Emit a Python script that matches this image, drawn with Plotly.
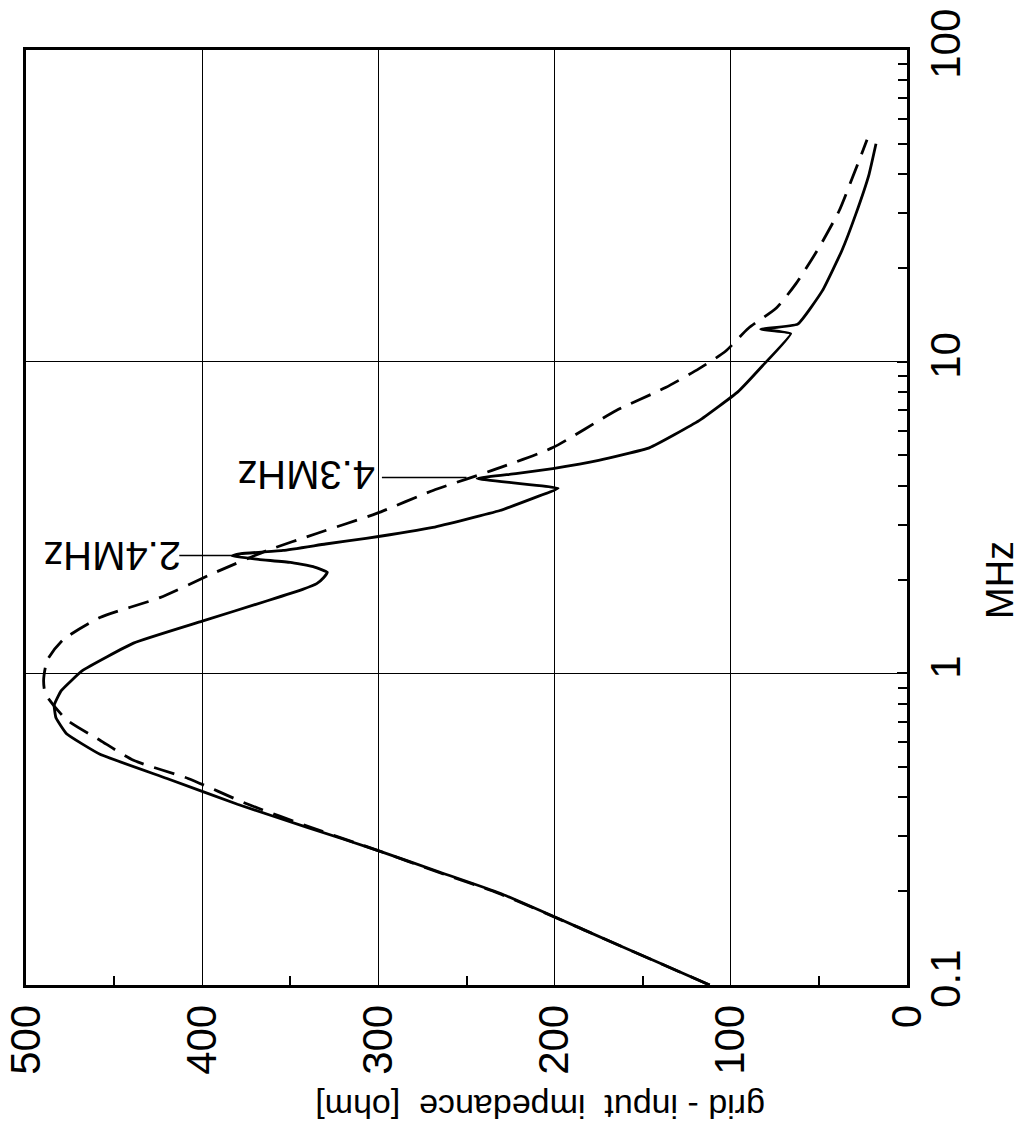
import plotly.graph_objects as go

# Frequency (MHz) / grid-input impedance (ohm)
freq_solid = [0.1, 0.12, 0.15, 0.197, 0.23, 0.271, 0.32, 0.38, 0.46, 0.55, 0.64, 0.72,
              0.79, 0.88, 1.02, 1.25, 1.47, 1.71, 1.86, 1.94, 2.03, 2.11, 2.2, 2.27,
              2.32, 2.38, 2.42, 2.48, 2.6, 2.71, 2.94, 3.33, 3.65, 3.92, 4.22, 4.37,
              4.54, 4.82, 5.3, 6.47, 8.0, 9.7, 12.3, 12.7, 13.2, 16.9, 22.7, 29.8, 40.0, 50.0]
z_solid = [112, 144, 183, 231, 265, 301, 340, 380, 420, 458, 477, 483,
           484, 480, 468, 439, 400, 363, 343, 335, 331, 329, 337, 350,
           368, 383, 378, 354, 330, 307, 269, 231, 212, 198, 244, 222,
           201, 175, 146, 118, 96, 82, 66, 83, 62, 48, 37, 29, 21.5, 17.6]

freq_dash = [0.1, 0.12, 0.15, 0.197, 0.23, 0.271, 0.32, 0.38, 0.46, 0.526, 0.61, 0.71,
             0.86, 0.95, 1.10, 1.28, 1.51, 1.75, 2.09, 2.48, 2.81, 3.26, 3.86, 4.57,
             5.3, 6.97, 8.26, 9.5, 10.8, 12.8, 14.9, 17.8, 23.2, 30.5, 38.9, 51.5]
z_dash = [112, 144, 183, 232, 266, 301, 338, 374, 408, 439, 458, 477,
          489, 490, 488, 479, 458, 424, 394, 363, 335, 301, 269, 231,
          201, 165, 137, 118, 103, 90, 74, 63, 50, 38.5, 31, 22.7]

z_ticks = [0, 100, 200, 300, 400, 500]
z_minor = [50, 150, 250, 350, 450]
f_ticks = [0.1, 1, 10, 100]
f_labels = ["0.1", "1", "10", "100"]
f_minor = [m * d for d in (0.1, 1, 10) for m in range(2, 10)]

# resonance markers: label, frequency, leader line start/end impedance
res_labels = ["2.4MHz", "4.3MHz"]
res_freq = [2.39, 4.25]
res_lead_from = [413, 298]
res_lead_to = [382, 250]

FONT = "Liberation Sans, Arial, sans-serif"

W, H = 1021, 1146
L, R, T, B = 26, 114, 50, 161
PW, PH = W - L - R, H - T - B


def px(x):
    return (x - L) / PW


def py(y):
    return (H - B - y) / PH


fig = go.Figure()
fig.add_trace(go.Scatter(x=z_dash, y=freq_dash, mode="lines",
                         line=dict(color="black", width=2.8, dash="21px,11px", shape="spline", smoothing=0.6),
                         showlegend=False, hoverinfo="skip"))
fig.add_trace(go.Scatter(x=z_solid, y=freq_solid, mode="lines",
                         line=dict(color="black", width=2.8, shape="spline", smoothing=0.35),
                         showlegend=False, hoverinfo="skip"))

fig.update_layout(
    template="none",
    width=W, height=H,
    margin=dict(l=L, r=R, t=T, b=B, autoexpand=False),
    paper_bgcolor="white", plot_bgcolor="white",
    font=dict(family=FONT, color="black"),
    xaxis=dict(range=[500, 0], tickmode="array", tickvals=z_ticks,
               ticktext=[str(v) for v in z_ticks], tickangle=-90,
               tickfont=dict(size=42, family=FONT), automargin=False,
               showgrid=True, gridcolor="black", gridwidth=1,
               showline=True, linecolor="black", linewidth=3, mirror=True,
               ticks="", zeroline=False,
               minor=dict(tickvals=z_minor, ticks="inside", ticklen=9,
                          tickcolor="black", tickwidth=2, showgrid=False)),
    yaxis=dict(type="log", range=[-1, 2], side="right", tickmode="array",
               tickvals=f_ticks, ticktext=f_labels, tickangle=-90,
               tickfont=dict(size=42, family=FONT), automargin=False,
               showgrid=True, gridcolor="black", gridwidth=1,
               showline=True, linecolor="black", linewidth=3, mirror=True,
               ticks="inside", ticklen=10, tickwidth=2, tickcolor="black",
               zeroline=False,
               minor=dict(tickvals=f_minor, ticks="inside", ticklen=9,
                          tickcolor="black", tickwidth=2, showgrid=False)),
)

# leader lines for the resonance labels
for f, z0, z1 in zip(res_freq, res_lead_from, res_lead_to):
    fig.add_shape(type="line", xref="x", yref="y", x0=z0, x1=z1, y0=f, y1=f,
                  line=dict(color="black", width=1.5))

label_pos = [(112, 556), (306, 475)]
for txt, (lx, ly) in zip(res_labels, label_pos):
    fig.add_annotation(x=px(lx), y=py(ly), xref="paper", yref="paper", text=txt,
                       xanchor="center", yanchor="middle",
                       showarrow=False, textangle=180, font=dict(size=40, family=FONT))

fig.add_annotation(x=px(540), y=py(1107), xref="paper", yref="paper",
                   text="grid - input&nbsp;&nbsp;impedance&nbsp;&nbsp;[ohm]",
                   xanchor="center", yanchor="middle",
                   showarrow=False, textangle=180, font=dict(size=34, family=FONT))
fig.add_annotation(x=px(1000), y=py(580), xref="paper", yref="paper",
                   text="MHz", showarrow=False, textangle=-90,
                   xanchor="center", yanchor="middle",
                   font=dict(size=38, family=FONT))

fig.write_html("out.html")
